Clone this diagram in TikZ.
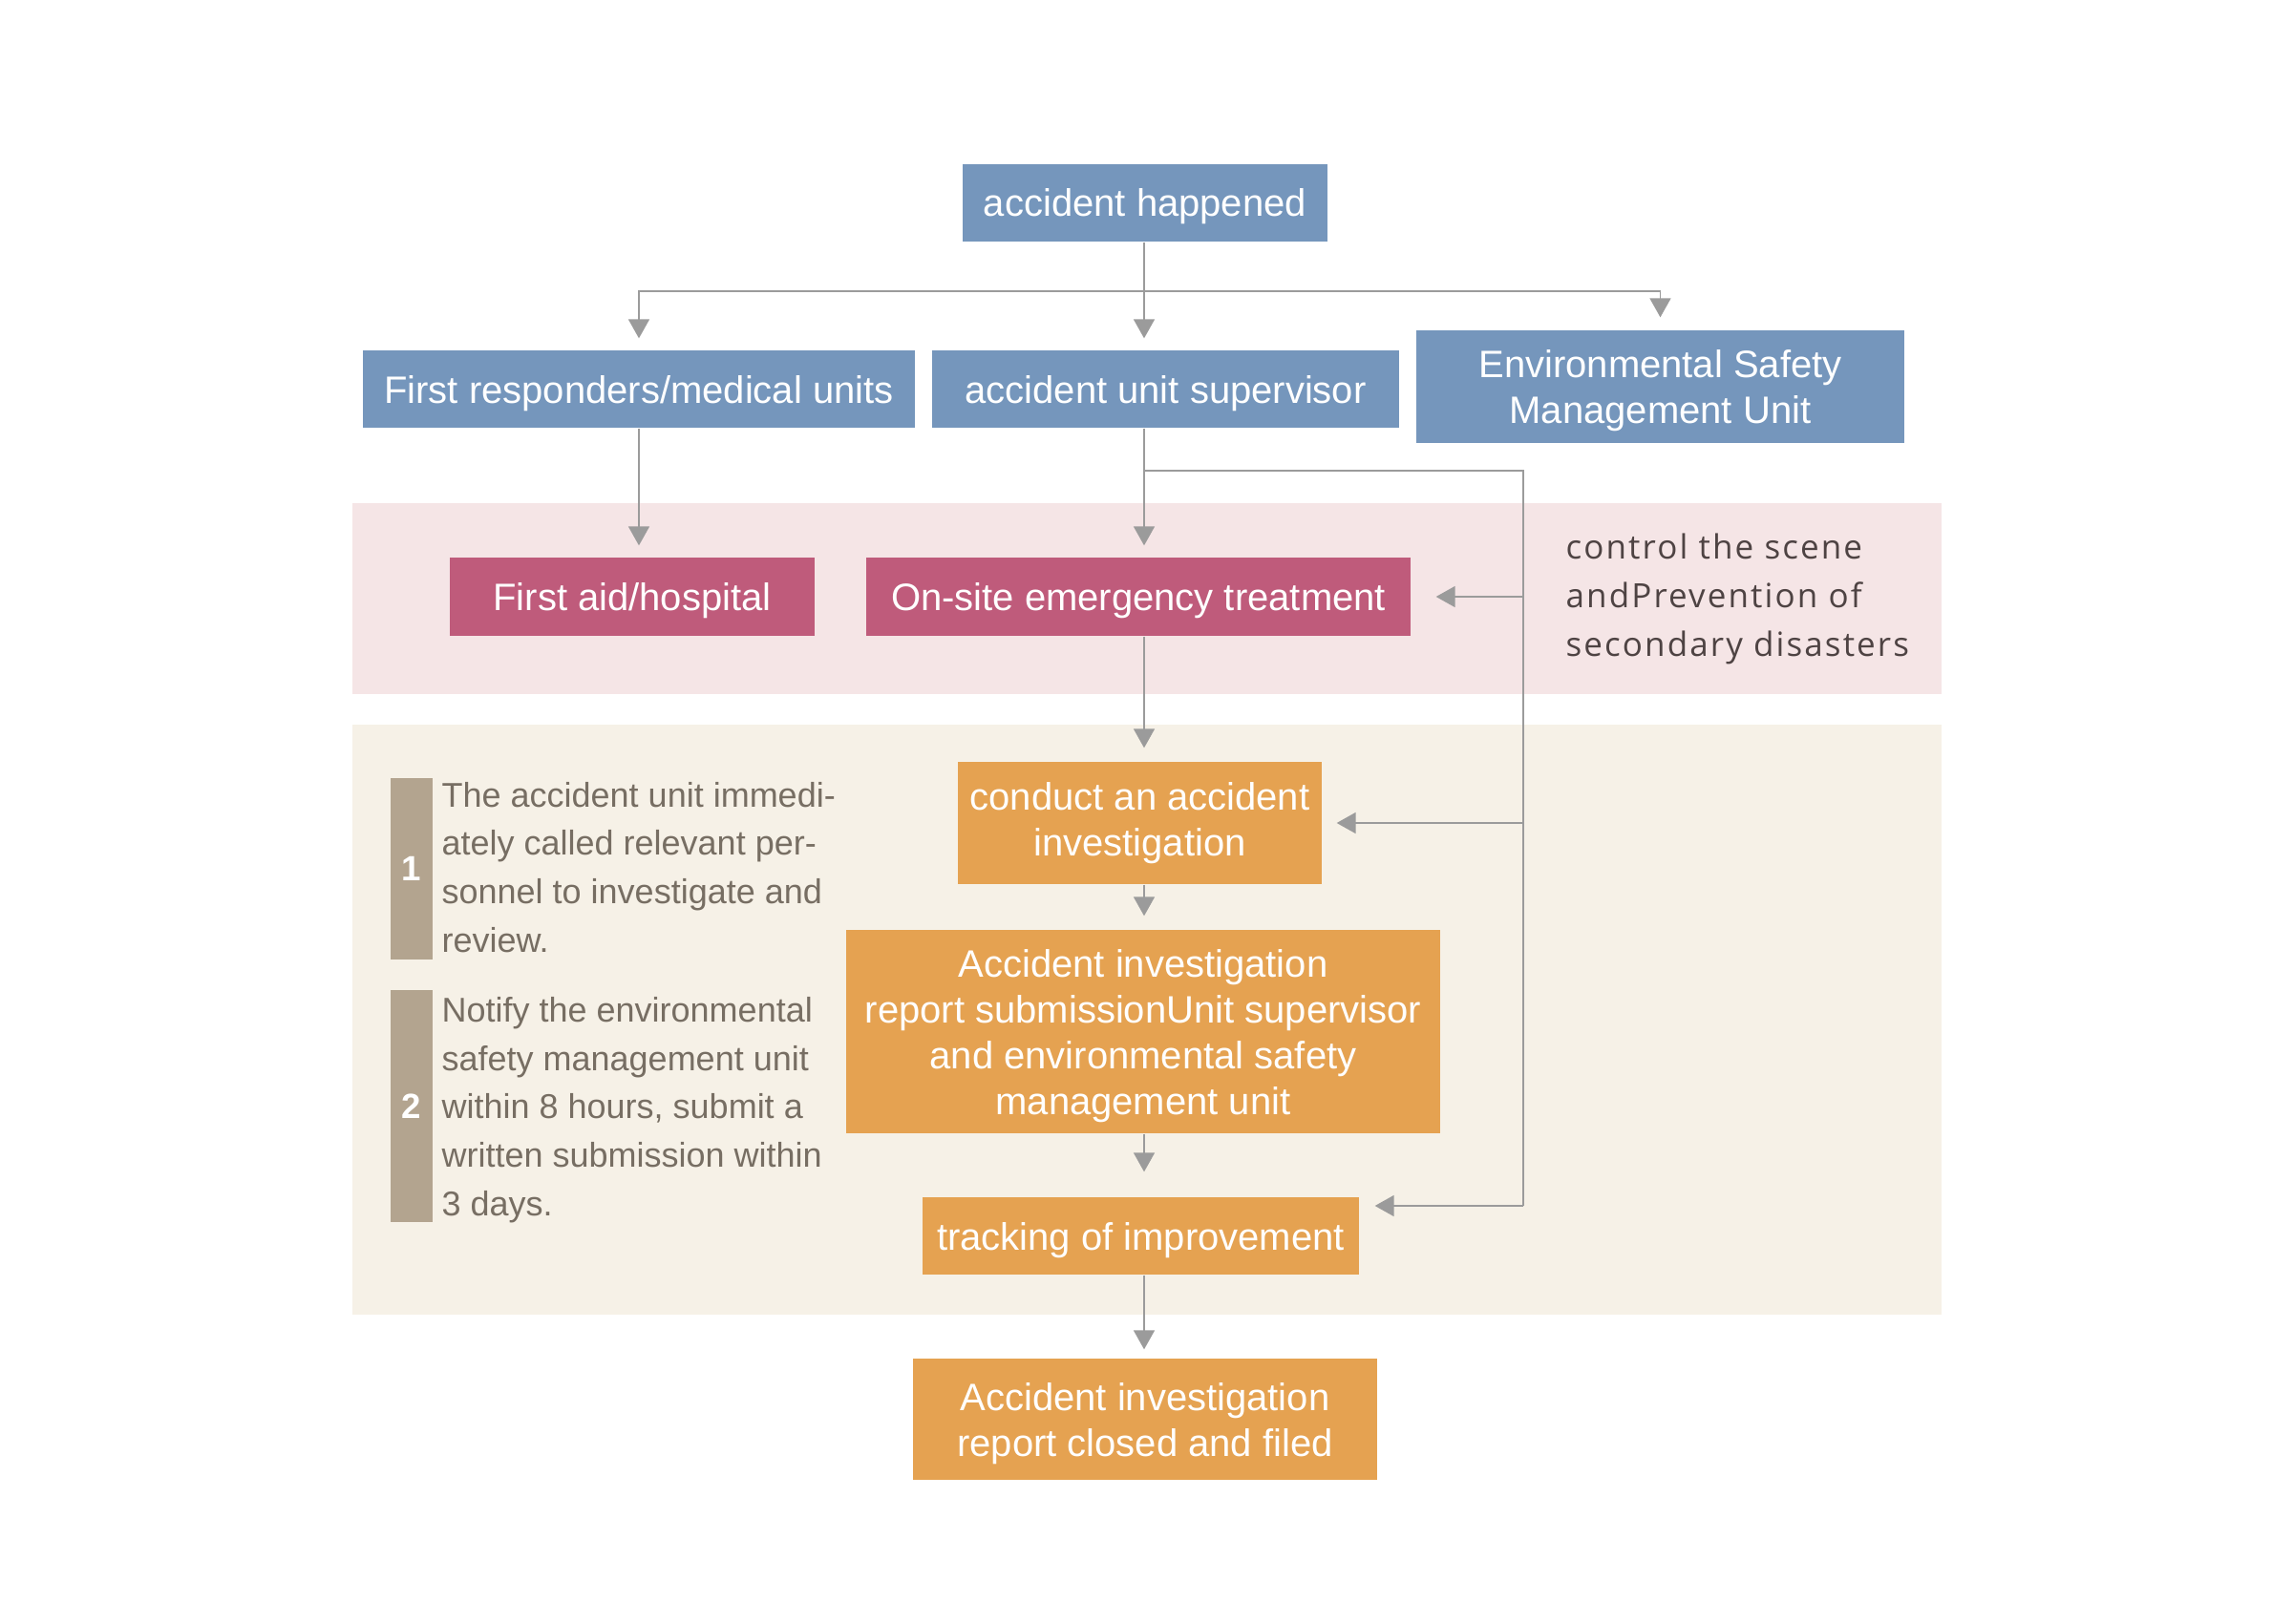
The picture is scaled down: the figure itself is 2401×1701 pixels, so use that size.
\documentclass[tikz,border=0pt]{standalone}
\usepackage{fontspec}
\setmainfont{Liberation Sans}
\newfontfamily\ctlfont[LetterSpace=6]{Open Sans}
\usetikzlibrary{arrows.meta}
\definecolor{bluebox}{RGB}{117,150,188}
\definecolor{pinkbox}{RGB}{191,91,123}
\definecolor{orangebox}{RGB}{229,162,81}
\definecolor{pinkband}{RGB}{245,229,230}
\definecolor{beigeband}{RGB}{246,241,231}
\definecolor{tabcol}{RGB}{179,164,143}
\definecolor{sidetext}{RGB}{119,110,99}
\definecolor{ctltext}{RGB}{78,67,67}
\definecolor{linecol}{RGB}{155,155,155}
\begin{document}
\begin{tikzpicture}[x=0.3pt,y=-0.3pt,
  boxbase/.style={rectangle, inner sep=0pt, text=white, align=center,
    font=\fontsize{12}{14.4}\selectfont, text depth=0pt},
  bluenode/.style={boxbase, fill=bluebox},
  pinknode/.style={boxbase, fill=pinkbox},
  orangenode/.style={boxbase, fill=orangebox},
  tabnode/.style={rectangle, inner sep=0pt, fill=tabcol, text=white,
    font=\bfseries\fontsize{11}{13}\selectfont, minimum width=13.2pt},
  sidenode/.style={inner sep=0pt, anchor=base west, align=left, text=sidetext,
    font=\fontsize{10.8}{15.2}\selectfont},
  ln/.style={draw=linecol, line width=0.5pt},
  arr/.style={ln, -{Triangle[length=6pt,width=6.6pt]}, fill=none},
]
\fill[white] (0,0) rectangle (2401,1701);
% bands
\fill[pinkband] (369,527) rectangle (2033,727);
\fill[beigeband] (369,759) rectangle (2033,1377);

% boxes
\node[bluenode, minimum width=114.6pt, minimum height=24.3pt] (ah) at (1199,212.5) {accident happened};
\node[bluenode, minimum width=173.4pt, minimum height=24.3pt] (fr) at (669,407.5) {First responders/medical units};
\node[bluenode, minimum width=146.7pt, minimum height=24.3pt] (sup) at (1220.5,407.5) {accident unit supervisor};
\node[bluenode, minimum width=153.3pt, minimum height=35.4pt] (esmu) at (1738.5,405) {Environmental Safety\\Management Unit};

\node[pinknode, minimum width=114.6pt, minimum height=24.6pt] (fa) at (662,625) {First aid/hospital};
\node[pinknode, minimum width=171pt, minimum height=24.6pt] (os) at (1192,625) {On-site emergency treatment};

\node[orangenode, text depth=, minimum width=114.3pt, minimum height=38.4pt] (ca) at (1193.5,862) {conduct an accident\\investigation};
\node[orangenode, minimum width=186.6pt, minimum height=63.9pt] (rp) at (1197,1080.5) {Accident investigation\\report submissionUnit supervisor\\and environmental safety\\management unit};
\node[orangenode, minimum width=137.1pt, minimum height=24.3pt] (tr) at (1194.5,1294.5) {tracking of improvement};
\node[orangenode, minimum width=145.8pt, minimum height=38.1pt] (fn) at (1199,1486.5) {Accident investigation\\report closed and filed};

% side notes
\node[tabnode, minimum height=57pt] (tab1) at (431,910) {1};
\node[tabnode, minimum height=72.9pt] (tab2) at (431,1158.5) {2};
\node[sidenode] (txt1) at (462,997) {The accident unit immedi-\\ately called relevant per-\\sonnel to investigate and\\review.};
\node[sidenode] (txt2) at (462,1273) {Notify the environmental\\safety management unit\\within 8 hours, submit a\\written submission within\\3 days.};

\node[inner sep=0pt, anchor=base west, align=left, text=ctltext,
  font=\ctlfont\fontsize{10.5}{15.3}\selectfont] (ctl) at (1639,687)
  {control the scene\\andPrevention of\\secondary disasters};

% connectors
\coordinate (ax) at (1198,0);
\coordinate (hy) at (0,305);
\coordinate (lp) at (1595,493);
\coordinate (lb) at (1595,1263);

\draw[arr, shorten >=3.6pt] (ah.south -| ax) -- (fr.north -| ax);
\draw[arr, shorten >=3.6pt] (ax |- hy) -| (fr.north);
\draw[arr, shorten >=3.9pt] (ax |- hy) -| (esmu.north);

\draw[arr, shorten >=3.6pt] (fr.south) -- (fr.south |- fa.north);
\draw[arr, shorten >=3.6pt] (sup.south -| ax) -- (os.north -| ax);

\draw[ln] (lp -| ax) -- (lp) -- (lb);
\draw[arr, shorten >=7.8pt] (lp |- os.east) -- (os.east);
\draw[arr, shorten >=4.5pt] (lp |- ca.east) -- (ca.east);
\draw[arr, shorten >=4.8pt] (lb) -- (lb -| tr.east);

\draw[arr, shorten >=4.2pt] (os.south -| ax) -- (ca.north -| ax);
\draw[arr, shorten >=4.2pt] (ca.south -| ax) -- (rp.north -| ax);
\draw[arr, shorten >=7.8pt] (rp.south -| ax) -- (tr.north -| ax);
\draw[arr, shorten >=2.7pt] (tr.south -| ax) -- (fn.north -| ax);
\end{tikzpicture}
\end{document}
